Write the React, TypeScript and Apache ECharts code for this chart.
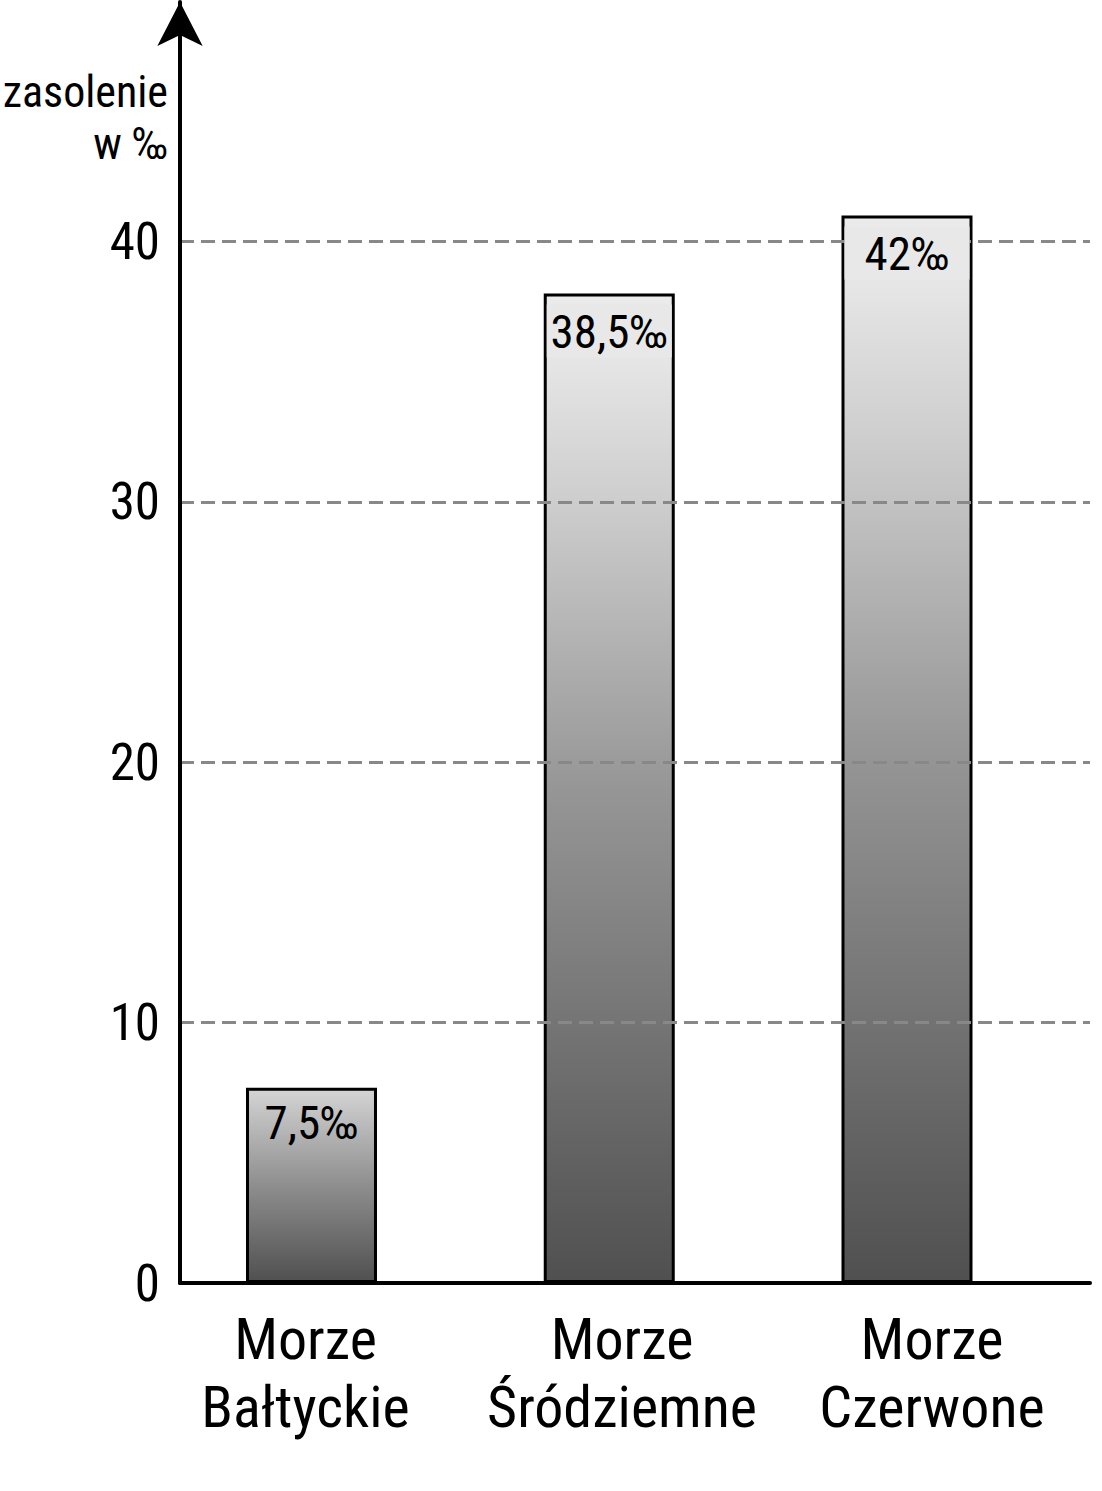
import React, { useEffect, useRef } from "react";
import * as echarts from "echarts";

const categories = ["Morze\nBałtyckie", "Morze\nŚródziemne", "Morze\nCzerwone"];
const barValues = [7.5, 38, 41];
const barLabels = ["7,5‰", "38,5‰", "42‰"];
const yTicks = [0, 10, 20, 30, 40];
const positions = [0, 1, 2];

const FONT = "Roboto, 'Liberation Sans', Arial, sans-serif";
const X_MIN = -0.4416;
const X_MAX = 2.6146;
// small horizontal nudges of the category captions (layout only)
const LABEL_NUDGE = [-0.02, 0.043, 0.084];

export default function App() {
  const ref = useRef<HTMLDivElement>(null);
  useEffect(() => {
    if (!ref.current) return;
    const chart = echarts.init(ref.current, undefined, { renderer: "svg" });
    const labelPos = positions.map((p, i) => p + LABEL_NUDGE[i]);
    const option = {
      animation: false,
      backgroundColor: "#ffffff",
      grid: { left: 180, right: 12, top: 2, bottom: 208, containLabel: false, outerBoundsMode: "none" },
      xAxis: {
        type: "value",
        min: X_MIN,
        max: X_MAX,
        z: 4,
        axisLine: { show: true, onZero: false, lineStyle: { color: "#000", width: 4 } },
        axisTick: { show: false },
        splitLine: { show: false },
        axisLabel: {
          customValues: [X_MIN + 0.001, ...labelPos, X_MAX - 0.001],
          showMinLabel: true,
          showMaxLabel: true,
          hideOverlap: false,
          formatter: (v: number) => {
            const i = labelPos.findIndex((p) => Math.abs(p - v) < 0.005);
            return i >= 0 ? categories[i] : "";
          },
          fontFamily: FONT,
          fontSize: 58,
          lineHeight: 68,
          color: "#000",
          margin: 22,
        },
      },
      yAxis: {
        type: "value",
        min: 0,
        max: 49.2,
        interval: 10,
        z: 4,
        name: "zasolenie\nw ‰",
        nameLocation: "end",
        nameGap: 0,
        nameTextStyle: {
          fontFamily: FONT,
          fontSize: 44,
          lineHeight: 52,
          color: "#000",
          align: "right",
          verticalAlign: "top",
          padding: [64, 12, 0, 0],
        },
        axisLine: {
          show: true,
          onZero: false,
          lineStyle: { color: "#000", width: 4 },
          symbol: ["none", "arrow"],
          symbolSize: [34, 44],
        },
        axisTick: { show: false },
        axisLabel: {
          fontFamily: FONT,
          fontSize: 51,
          color: "#000",
          margin: 20,
          showMaxLabel: false,
          formatter: (v: number) => (yTicks.includes(v) ? String(v) : ""),
        },
        splitLine: {
          show: true,
          showMinLine: false,
          showMaxLine: false,
          lineStyle: { color: "#888", width: 3, type: [14, 7] },
        },
      },
      series: [
        {
          type: "bar",
          barWidth: 131,
          barGap: "-100%",
          z: 2,
          data: barValues.map((v, i) => {
            const tall = v >= 20;
            return {
              value: [positions[i], v],
              itemStyle: {
                color: new echarts.graphic.LinearGradient(0, 0, 0, 1, tall
                  ? [
                      { offset: 0, color: "#ebebeb" },
                      { offset: 0.07, color: "#e5e5e5" },
                      { offset: 0.2, color: "#cfcfcf" },
                      { offset: 0.5, color: "#969696" },
                      { offset: 1, color: "#505050" },
                    ]
                  : [
                      { offset: 0, color: "#d4d4d4" },
                      { offset: 0.1, color: "#c6c6c6" },
                      { offset: 0.5, color: "#8e8e8e" },
                      { offset: 1, color: "#505050" },
                    ]),
                borderColor: "#000",
                borderWidth: 3,
              },
            };
          }),
          label: { show: false },
        },
        {
          // transparent twin of the bars that carries the value captions above the grid lines
          type: "bar",
          barWidth: 131,
          barGap: "-100%",
          z: 6,
          silent: true,
          data: barValues.map((v, i) => ({
            value: [positions[i], v],
            label:
              v >= 20
                ? { backgroundColor: "#e8e8e8", width: 121, align: "center", padding: [3, 2, 3, 2] }
                : {},
          })),
          itemStyle: { color: "rgba(0,0,0,0)", borderWidth: 0 },
          label: {
            show: true,
            position: "insideTop",
            distance: 11,
            formatter: (p: any) => barLabels[p.dataIndex],
            fontFamily: FONT,
            fontSize: 47,
            color: "#000",
          },
        },
      ],
    };
    chart.setOption(option as any);
    return () => chart.dispose();
  }, []);
  return (
    <>
      <style>{`svg text { font-stretch: 75%; }`}</style>
      <div
        ref={ref}
        style={{ position: "absolute", left: 0, top: 0, width: 1102, height: 1491 }}
      />
    </>
  );
}
